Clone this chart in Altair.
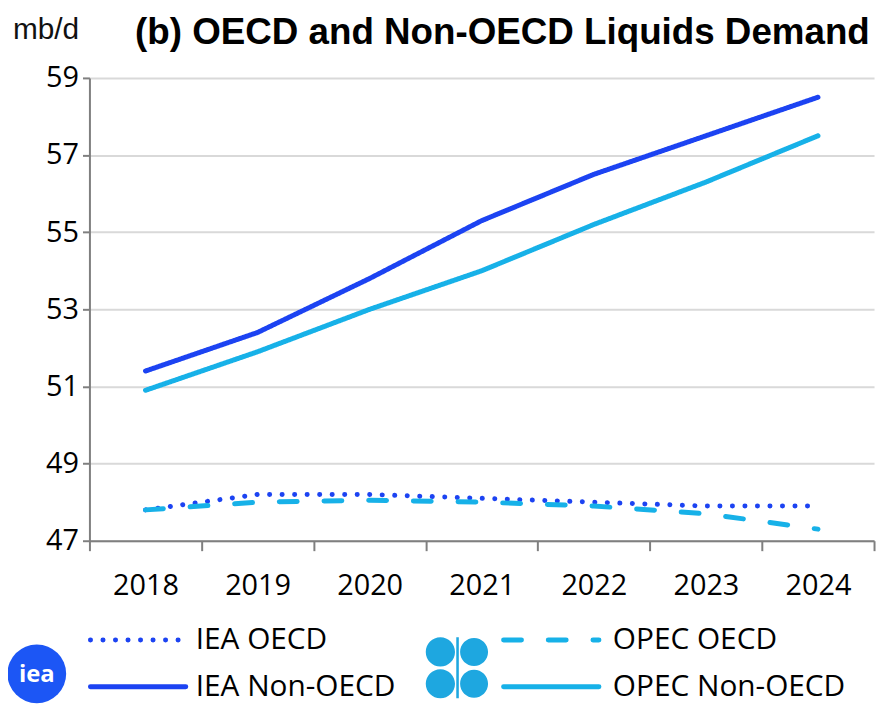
import altair as alt
import pandas as pd

years = ["2018", "2019", "2020", "2021", "2022", "2023", "2024"]
iea_oecd = [47.8, 48.2, 48.2, 48.1, 48.0, 47.9, 47.9]
iea_non_oecd = [51.4, 52.4, 53.8, 55.3, 56.5, 57.5, 58.5]
opec_oecd = [47.8, 48.0, 48.05, 48.0, 47.9, 47.7, 47.3]
opec_non_oecd = [50.9, 51.9, 53.0, 54.0, 55.2, 56.3, 57.5]

series_names = ["IEA OECD", "IEA Non-OECD", "OPEC OECD", "OPEC Non-OECD"]
series_values = [iea_oecd, iea_non_oecd, opec_oecd, opec_non_oecd]
series_colors = ["#1c43f2", "#1c43f2", "#17b1e8", "#17b1e8"]
series_dash = [[0.1, 12.5], [1, 0], [18, 27], [1, 0]]

y_ticks = [47, 49, 51, 53, 55, 57, 59]
title_text = "(b) OECD and Non-OECD Liquids Demand"
unit_text = "mb/d"

FONT = "Open Sans"
TFONT = "Liberation Sans"
W, H = 790, 466

rows = []
for name, vals in zip(series_names, series_values):
    for yr, v in zip(years, vals):
        rows.append({"year": yr, "value": v, "series": name})
df = pd.DataFrame(rows)

lines = alt.Chart(df).mark_line(strokeWidth=5, strokeCap="round", strokeJoin="round").encode(
    x=alt.X("year:N", bandPosition=0.5,
            scale=alt.Scale(type="band", domain=years, paddingInner=0, paddingOuter=0),
            axis=alt.Axis(title=None, labelAngle=0, labelFont=FONT, labelFontSize=29,
                          labelColor="#000000", labelPadding=21, tickBand="extent",
                          tickSize=10, tickColor="#7f7f7f", tickWidth=2,
                          domainColor="#7f7f7f", domainWidth=2, grid=False)),
    y=alt.Y("value:Q", scale=alt.Scale(domain=[47, 59], nice=False, zero=False),
            axis=alt.Axis(title=None, values=y_ticks, labelFont=FONT, labelFontSize=29,
                          labelColor="#000000", labelPadding=4, tickSize=7,
                          tickColor="#7f7f7f", tickWidth=2, domainColor="#7f7f7f",
                          domainWidth=2, grid=True, gridColor="#d9d9d9", gridWidth=2)),
    color=alt.Color("series:N", scale=alt.Scale(domain=series_names, range=series_colors), legend=None),
    strokeDash=alt.StrokeDash("series:N", scale=alt.Scale(domain=series_names, range=series_dash), legend=None),
    detail="series:N",
)

def text_layer(txt, x, y, size, color="#000000", weight="normal", align="left",
               baseline="alphabetic", font=FONT):
    return alt.Chart(pd.DataFrame({"t": [txt]})).mark_text(
        font=font, fontSize=size, fontWeight=weight, color=color, align=align, baseline=baseline
    ).encode(text="t:N", x=alt.value(x), y=alt.value(y))

title = text_layer(title_text, 46, -34, 37, weight="bold", font=TFONT)
unit = text_layer(unit_text, -77, -39, 30, color="#111111", font=TFONT)

# legend
leg = []
leg_pos = [(1, 566), (1, 613), (417, 566), (417, 613)]
for name, col, dash, (lx, ly) in zip(series_names, series_colors, series_dash, leg_pos):
    leg.append(alt.Chart(pd.DataFrame({"s": [name]})).mark_rule(
        color=col, strokeWidth=5, strokeDash=dash, strokeCap="round").encode(
        x=alt.value(lx), x2=alt.value(lx + 96), y=alt.value(ly)))
    leg.append(text_layer(name, lx + (106 if lx < 100 else 110), ly, 30, baseline="middle"))

# IEA logo
iea_circle = alt.Chart(pd.DataFrame({"s": ["iea"]})).mark_point(
    shape="circle", filled=True, opacity=1, color="#1c56f5", size=3500).encode(
    x=alt.value(-53), y=alt.value(600))
iea_txt = text_layer("iea", -53, 601, 24, color="#ffffff", weight="bold", align="center", baseline="middle")

# OPEC logo (approximation)
opec_path = ("M-0.98,-0.5A0.46,0.46,0,1,1,-0.06,-0.5A0.46,0.46,0,1,1,-0.98,-0.5Z"
             "M0.1,-0.5A0.44,0.44,0,1,1,0.98,-0.5A0.44,0.44,0,1,1,0.1,-0.5Z"
             "M-0.98,0.5A0.46,0.46,0,1,1,-0.06,0.5A0.46,0.46,0,1,1,-0.98,0.5Z"
             "M0.1,0.5A0.44,0.44,0,1,1,0.98,0.5A0.44,0.44,0,1,1,0.1,0.5Z"
             "M-0.02,-0.96L0.06,-0.96L0.06,0.96L-0.02,0.96Z")
opec_logo = alt.Chart(pd.DataFrame({"s": ["opec"]})).mark_point(
    shape=opec_path, filled=True, opacity=1, color="#1ea7e0", size=4096, strokeWidth=0).encode(
    x=alt.value(370), y=alt.value(594))

chart = alt.layer(lines, title, unit, *leg, iea_circle, iea_txt, opec_logo).properties(
    width=W, height=H,
    autosize=alt.AutoSizeParams(type="none"),
    padding={"left": 82, "top": 68, "right": 5, "bottom": 163},
).configure_view(stroke=None)

chart.save("out.html", embed_options={"renderer": "svg", "actions": False})
